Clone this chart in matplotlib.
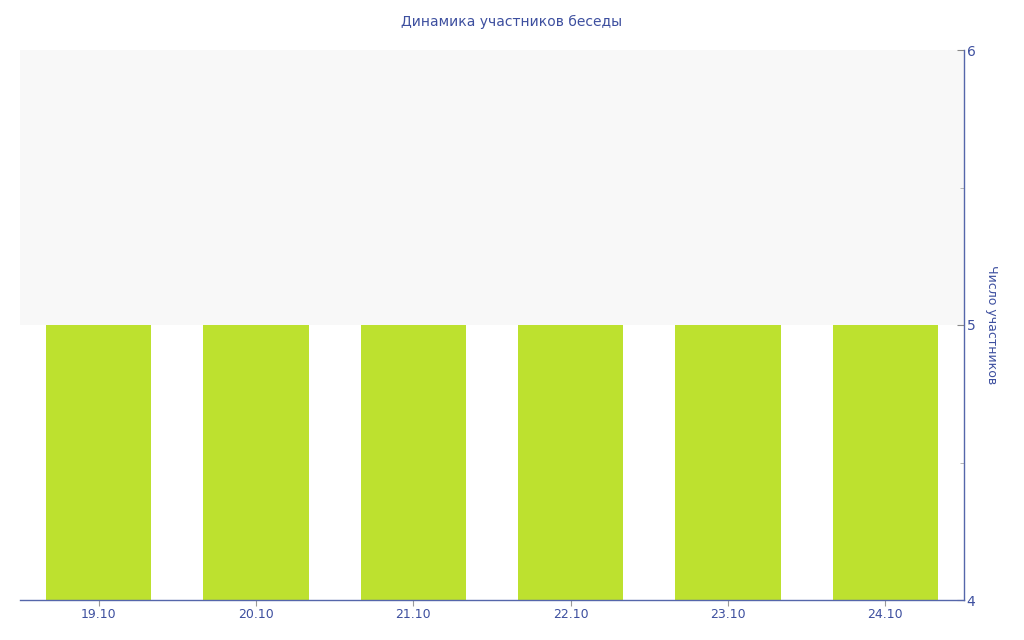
import matplotlib
matplotlib.use("Agg")
import matplotlib.pyplot as plt
from matplotlib.ticker import MultipleLocator

categories = ["19.10", "20.10", "21.10", "22.10", "23.10", "24.10"]
values = [5, 5, 5, 5, 5, 5]
title = "Динамика участников беседы"
ylabel = "Число участников"

text_c = "#3d4f9f"
axis_c = "#5566aa"
bar_c = "#bde12f"

fig = plt.figure(figsize=(10.24, 6.4), dpi=100)
ax = fig.add_axes([20/1024, 1-600/640, 944/1024, 550/640])

ax.axhspan(5, 6, color="#f8f8f8", zorder=0, lw=0)
x = list(range(len(categories)))
ax.bar(x, values, width=0.67, color=bar_c, zorder=2, edgecolor="none")

ax.set_xlim(-0.5, len(categories) - 0.5)
ax.set_ylim(4, 6)
ax.set_xticks(x)
ax.set_xticklabels(categories)
ax.yaxis.set_major_locator(MultipleLocator(1))
ax.yaxis.set_minor_locator(MultipleLocator(0.5))
ax.yaxis.tick_right()
ax.yaxis.set_label_position("right")

for s in ["top", "left"]:
    ax.spines[s].set_visible(False)
ax.spines["right"].set_color(axis_c)
ax.spines["bottom"].set_color(axis_c)
ax.spines["right"].set_linewidth(1)
ax.spines["bottom"].set_linewidth(1)

ax.tick_params(axis="y", which="major", direction="in", length=5, color="#888888",
               labelcolor=text_c, labelsize=10, pad=2)
ax.tick_params(axis="y", which="minor", direction="in", length=3, color="#aaaaaa")
ax.tick_params(axis="x", which="major", direction="out", length=4, color="#999999",
               labelcolor=text_c, labelsize=9, pad=2)

ax.set_ylabel(ylabel, rotation=270, color=text_c, fontsize=9, labelpad=16)
fig.text(0.5, 1-22/640, title, ha="center", va="center", color=text_c, fontsize=10)

fig.savefig("out.png", dpi=100, facecolor="white")
